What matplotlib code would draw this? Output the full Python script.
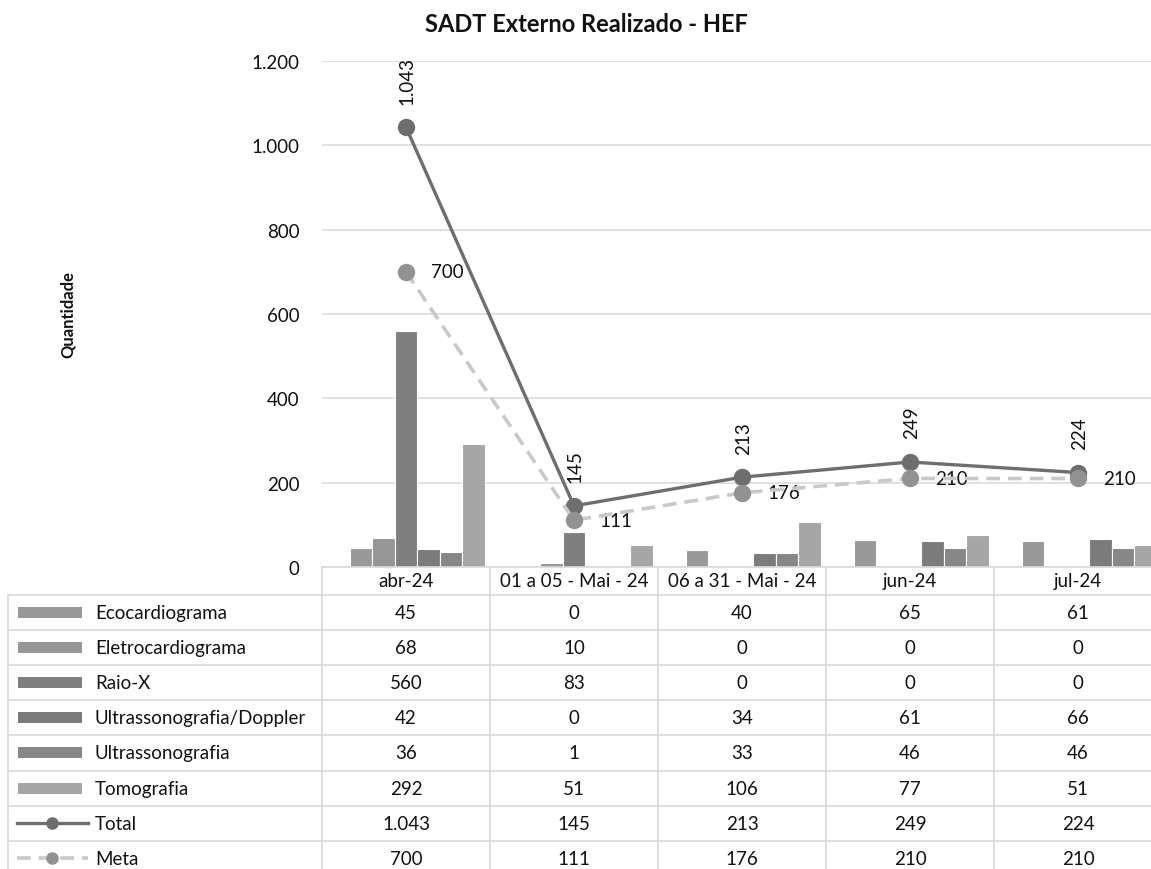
import numpy as np
import matplotlib.pyplot as plt
from matplotlib.patches import Rectangle
from matplotlib.lines import Line2D

plt.rcParams['font.family'] = ['Lato', 'DejaVu Sans']

categorias = ['abr-24', '01 a 05 - Mai - 24', '06 a 31 - Mai - 24', 'jun-24', 'jul-24']
series_nomes = ['Ecocardiograma', 'Eletrocardiograma', 'Raio-X',
                'Ultrassonografia/Doppler', 'Ultrassonografia', 'Tomografia']
ecocardiograma = [45, 0, 40, 65, 61]
eletrocardiograma = [68, 10, 0, 0, 0]
raio_x = [560, 83, 0, 0, 0]
usg_doppler = [42, 0, 34, 61, 66]
ultrassonografia = [36, 1, 33, 46, 46]
tomografia = [292, 51, 106, 77, 51]
total = [1043, 145, 213, 249, 224]
meta = [700, 111, 176, 210, 210]

series = [ecocardiograma, eletrocardiograma, raio_x, usg_doppler, ultrassonografia, tomografia]
cores = ['#999999', '#969696', '#7f7f7f', '#7b7b7b', '#878787', '#a6a6a6']
cor_total = '#6e6e6e'
cor_meta = '#c9c9c9'
cor_meta_mk = '#929292'
cor_grade = '#d9d9d9'
cor_txt = '#111111'
fs = 13.5


def fmt(v):
    return f'{v:,}'.replace(',', '.')


W, H = 1151, 870
fig = plt.figure(figsize=(W / 100, H / 100), dpi=100)

# area do grafico (pixels do reference)
x0, col_w = 322, 168
y_top, y_zero = 62, 568
ax = fig.add_axes([x0 / W, 1 - y_zero / H, 5 * col_w / W, (y_zero - y_top) / H])
x = np.arange(len(categorias))
bw = 22.5 / col_w
for i, (vals, cor) in enumerate(zip(series, cores)):
    ax.bar(x + (i - 2.5) * bw, vals, width=bw, align='edge', color=cor,
           edgecolor='white', linewidth=0.8, zorder=2)

ax.plot(x, total, color=cor_total, lw=2.4, marker='o', ms=11.5, zorder=4)
ax.plot(x, meta, color=cor_meta, lw=2.6, ls=(0, (3.8, 2.2)), marker='o', ms=11.5,
        mfc=cor_meta_mk, mec=cor_meta_mk, zorder=5)

for xi, v in zip(x, total):
    ax.annotate(fmt(v), (xi, v), xytext=(1, 17), textcoords='offset points',
                rotation=90, ha='center', va='bottom', fontsize=fs, color=cor_txt)
for xi, v in zip(x, meta):
    ax.annotate(fmt(v), (xi, v), xytext=(18, 0), textcoords='offset points',
                ha='left', va='center', fontsize=fs, color=cor_txt)

ax.set_xlim(-0.5, 4.5)
ax.set_ylim(0, 1200)
ax.set_yticks(range(0, 1201, 200))
ax.set_yticklabels([fmt(v) for v in range(0, 1201, 200)], fontsize=fs, color=cor_txt)
ax.tick_params(axis='y', length=0, pad=16)
ax.set_xticks([])
ax.yaxis.grid(True, color=cor_grade, lw=1.1, zorder=0)
ax.set_axisbelow(True)
for s in ax.spines.values():
    s.set_visible(False)

fig.text(586 / W, 1 - 25 / H, 'SADT Externo Realizado - HEF', ha='center', va='center',
         fontsize=17, fontweight='bold', color=cor_txt)
fig.text(68 / W, 1 - 315 / H, 'Quantidade', rotation=90, ha='center', va='center',
         fontsize=12, fontweight='bold', color=cor_txt)

# tabela de dados
tax = fig.add_axes([0, 0, 1, 1])
tax.set_xlim(0, W)
tax.set_ylim(H, 0)
tax.axis('off')
tax.patch.set_alpha(0)

row_top, row_h = 596, 35.1
linhas = series + [total, meta]
nomes = series_nomes + ['Total', 'Meta']
lkw = dict(color=cor_grade, lw=1.2)

tax.plot([x0, W], [y_zero, y_zero], **lkw)
for k in range(6):
    tax.plot([x0 + k * col_w] * 2, [y_zero, H], **lkw)
tax.plot([8, 8], [row_top, H], **lkw)
for r in range(len(linhas) + 1):
    yy = row_top + r * row_h
    tax.plot([8, W], [yy, yy], **lkw)

for j, c in enumerate(categorias):
    tax.text(x0 + (j + 0.5) * col_w, (y_zero + row_top) / 2, c, ha='center', va='center',
             fontsize=fs, color=cor_txt)

for r, (nome, vals) in enumerate(zip(nomes, linhas)):
    yc = row_top + (r + 0.5) * row_h
    if r < len(series):
        tax.add_patch(Rectangle((18, yc - 5.5), 64, 11, color=cores[r], lw=0))
    elif nome == 'Total':
        tax.add_line(Line2D([17, 88], [yc, yc], color=cor_total, lw=2.4))
        tax.add_line(Line2D([52], [yc], marker='o', ms=8, color=cor_total))
    else:
        tax.add_line(Line2D([17, 88], [yc, yc], color=cor_meta, lw=2.6, ls=(0, (3.8, 2.2))))
        tax.add_line(Line2D([52], [yc], marker='o', ms=8, color=cor_meta_mk))
    tax.text(95, yc, nome, ha='left', va='center', fontsize=fs, color=cor_txt)
    for j, v in enumerate(vals):
        tax.text(x0 + (j + 0.5) * col_w, yc, fmt(v), ha='center', va='center',
                 fontsize=fs, color=cor_txt)

fig.savefig('out.png', dpi=100)
